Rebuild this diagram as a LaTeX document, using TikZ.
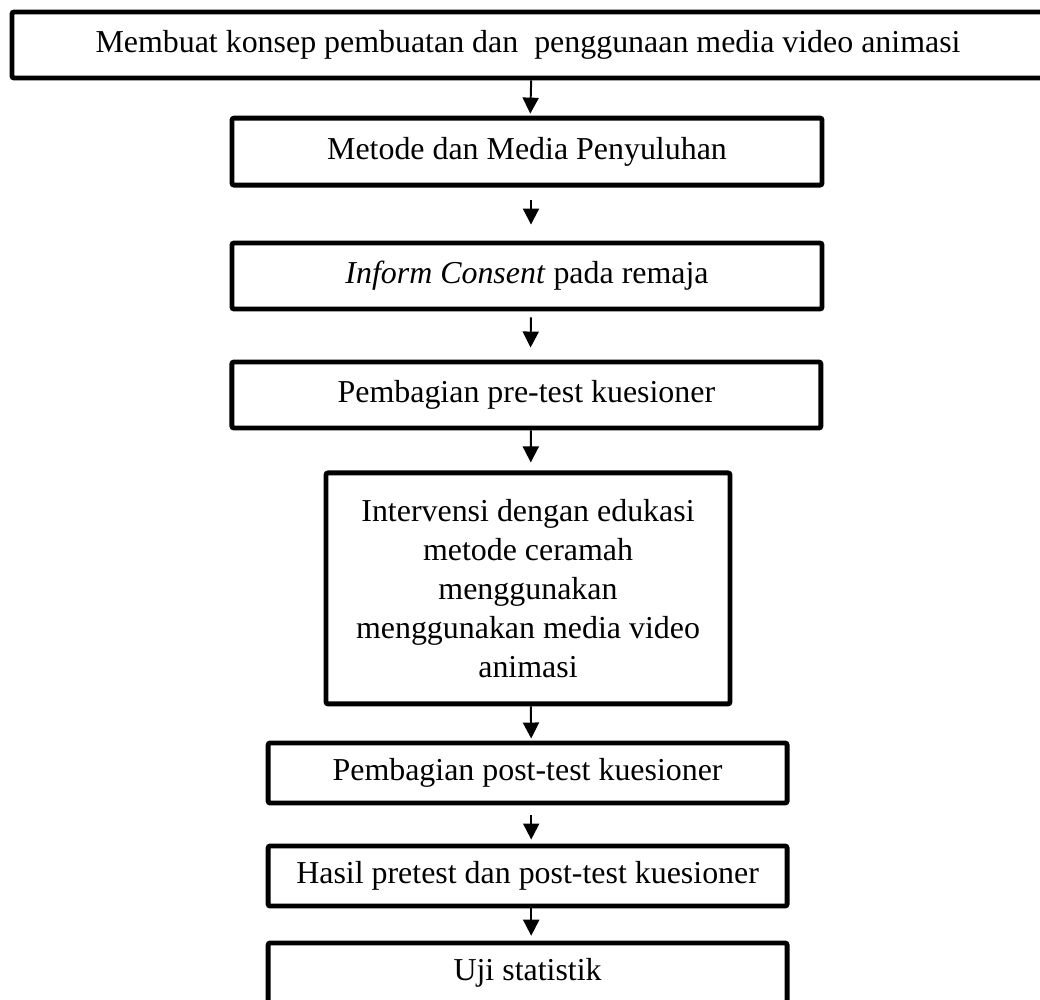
\documentclass[tikz,border=0pt]{standalone}
\usepackage{fontspec}
\setmainfont{Liberation Serif}
\usetikzlibrary{arrows.meta}
\tikzset{
  stepbox/.style={draw, line width=3.5pt, rounded corners=1.5pt, inner sep=0pt,
    align=center, font=\fontsize{22.7}{27.7}\selectfont},
  flow/.style={-{Triangle[width=0.4cm,length=0.4cm]}, line width=1.4pt},
}
\begin{document}
\begin{tikzpicture}
  \useasboundingbox (0,0) rectangle (26,-25);
  % boxes
  \node[stepbox, minimum width=25.8cm, minimum height=1.65cm] (konsep) at (13.2,-1.125)
    {Membuat konsep pembuatan dan\ \ penggunaan media video animasi};
  \node[stepbox, minimum width=14.75cm, minimum height=1.675cm] (metode) at (13.175,-3.79)
    {Metode dan Media Penyuluhan};
  \node[stepbox, minimum width=14.75cm, minimum height=1.65cm] (consent) at (13.175,-6.9)
    {\textit{Inform Consent} pada remaja};
  \node[stepbox, minimum width=14.725cm, minimum height=1.65cm] (pretest) at (13.16,-9.875)
    {Pembagian pre-test kuesioner};
  \node[stepbox, minimum width=10.1cm, minimum height=5.775cm] (intervensi) at (13.2,-14.71)
    {Intervensi dengan edukasi\\ metode ceramah\\ menggunakan\\ menggunakan media video\\ animasi};
  \node[stepbox, minimum width=12.975cm, minimum height=1.5cm] (posttest) at (13.19,-19.325)
    {Pembagian post-test kuesioner};
  \node[stepbox, minimum width=12.975cm, minimum height=1.5cm] (hasil) at (13.19,-21.9)
    {Hasil pretest dan post-test kuesioner};
  \node[stepbox, minimum width=12.975cm, minimum height=1.5cm] (uji) at (13.19,-24.325)
    {Uji statistik};
  % arrows
  \draw[flow, shorten >=0.05cm] ([xshift=0.08cm]konsep.south) -- ([xshift=0.08cm]metode.north);
  \draw[flow, shorten <=0.3cm, shorten >=0.4cm] ([xshift=0.1cm]metode.south) -- ([xshift=0.1cm]consent.north);
  \draw[flow, shorten <=0.15cm, shorten >=0.3cm] ([xshift=0.1cm]consent.south) -- ([xshift=0.1cm]pretest.north);
  \draw[flow, shorten >=0.2cm] ([xshift=0.11cm]pretest.south) -- ([xshift=0.07cm]intervensi.north);
  \draw[flow, shorten >=0.05cm] ([xshift=0.07cm]intervensi.south) -- ([xshift=0.09cm]posttest.north);
  \draw[flow, shorten <=0.25cm, shorten >=0.1cm] ([xshift=0.09cm]posttest.south) -- ([xshift=0.09cm]hasil.north);
  \draw[flow, shorten >=0.12cm] ([xshift=0.09cm]hasil.south) -- ([xshift=0.09cm]uji.north);
\end{tikzpicture}
\end{document}
